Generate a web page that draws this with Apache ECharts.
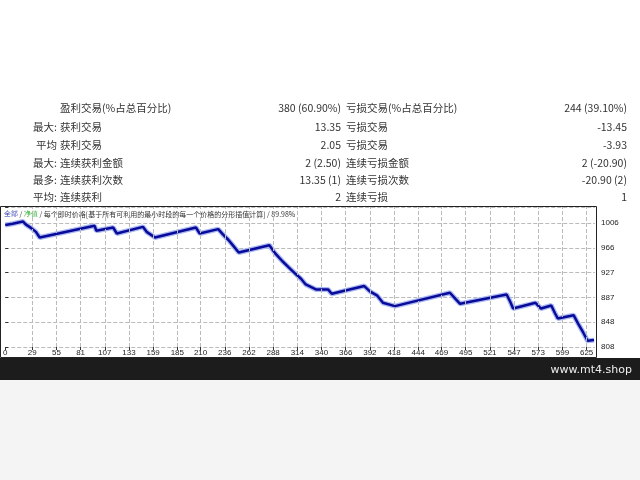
<!DOCTYPE html>
<html><head><meta charset="utf-8">
<script src="https://cdn.jsdelivr.net/npm/echarts@6/dist/echarts.min.js"></script>
<style>html,body{margin:0;padding:0;background:#fff}#c{width:640px;height:480px}</style>
</head><body><div id="c"></div>
<script>
// 表格数据
const rowLabels = ['', '最大:', '平均', '最大:', '最多:', '平均:'];
const winNames = ['盈利交易(%占总百分比)', '获利交易', '获利交易', '连续获利金额', '连续获利次数', '连续获利'];
const winValues = ['380 (60.90%)', '13.35', '2.05', '2 (2.50)', '13.35 (1)', '2'];
const lossNames = ['亏损交易(%占总百分比)', '亏损交易', '亏损交易', '连续亏损金额', '连续亏损次数', '连续亏损'];
const lossValues = ['244 (39.10%)', '-13.45', '-3.93', '2 (-20.90)', '-20.90 (2)', '1'];
// 净值曲线 [交易序号, 净值]
const equity = [[0,1003],[8,1005],[19,1008.7],[22,1004],[28,998],[33,992],[37,983],[96,1001.7],[98,993.7],[116,999],[120,989.4],[148,1000],[152,992],[161,983],[205,999],[209,989.4],[229,996.4],[234,988],[240,979],[245,970],[251,959],[284,970.7],[290,958],[298,945],[305,935],[312,925],[318,917],[323,908],[334,900],[347,900],[351,893],[386,905.4],[392,897],[400,890],[406,878.6],[419,873.3],[478,894.7],[484,885],[489,877],[539,892],[543,880],[546,869.5],[570,878.6],[576,869.5],[587,874.4],[591,862],[594,853.5],[611,858.8],[616,845],[621,832],[626,818],[633,819]];
const xTicks = [0,29,55,81,107,133,159,185,210,236,262,288,314,340,366,392,418,444,469,495,521,547,573,599,625];

const rowY = [108,127,145,163,180,197];
const graphic = [];
rowY.forEach((y, i) => {
  const st = {fontSize: 10.5, fill: '#333', fontFamily: 'Noto Sans CJK SC', textVerticalAlign: 'middle'};
  graphic.push({type:'text', x:57, y, style:Object.assign({text:rowLabels[i], textAlign:'right'}, st)});
  graphic.push({type:'text', x:60, y, style:Object.assign({text:winNames[i], textAlign:'left'}, st)});
  graphic.push({type:'text', x:341, y, style:Object.assign({text:winValues[i], textAlign:'right'}, st)});
  graphic.push({type:'text', x:346, y, style:Object.assign({text:lossNames[i], textAlign:'left'}, st)});
  graphic.push({type:'text', x:627, y, style:Object.assign({text:lossValues[i], textAlign:'right'}, st)});
});
graphic.push({type:'rect', shape:{x:0.5, y:206.5, width:596, height:151}, style:{fill:'none', stroke:'#222', lineWidth:1}});
graphic.push({type:'text', x:4, y:214, style:{text:'{b|全部} / {g|净值} / 每个即时价格[基于所有可利用的最小时段的每一个价格的分形插值计算] / 89.98%', fontSize:7, fill:'#333', textVerticalAlign:'middle', fontFamily:'Noto Sans CJK SC', rich:{b:{fill:'#2233aa', fontSize:7}, g:{fill:'#22aa22', fontSize:7}}}});
graphic.push({type:'rect', shape:{x:0, y:358, width:640, height:22}, style:{fill:'#1c1c1c'}});
graphic.push({type:'rect', shape:{x:0, y:380, width:640, height:100}, style:{fill:'#f4f4f4'}});
graphic.push({type:'text', x:632, y:370, style:{text:'www.mt4.shop', fontSize:11, fill:'#eee', textAlign:'right', textVerticalAlign:'middle', fontFamily:'DejaVu Sans'}});

const chart = echarts.init(document.getElementById('c'));
chart.setOption({
  animation: false,
  grid: {left: 2, right: 45, top: 207, bottom: 133},
  xAxis: {
    type: 'value', min: 0, max: 634,
    axisLine: {show: false},
    axisTick: {show: true, length: 3, lineStyle: {color: '#333'}, customValues: xTicks},
    splitLine: {show: false},
    axisLabel: {show: true, customValues: xTicks, fontSize: 8, color: '#222', margin: 2, hideOverlap: false}
  },
  yAxis: {
    type: 'value', position: 'right', min: 808, max: 808 + 39.6 * 5.65, interval: 39.6,
    axisLine: {show: false}, axisTick: {show: true, length: 3, lineStyle: {color: '#333'}},
    axisLabel: {fontSize: 8, color: '#222', margin: 6, formatter: v => v > 1020 ? '' : Math.round(v)},
    splitLine: {lineStyle: {color: '#bbb', type: 'dashed'}}
  },
  graphic,
  series: [
    {type: 'line', data: equity, symbol: 'none', lineStyle: {color: '#a8b8f0', width: 5}, silent: true, z: 1},
    {type: 'line', data: equity, symbol: 'none', lineStyle: {color: '#0a0a9a', width: 2.5}, z: 2,
     markLine: {symbol: 'none', silent: true, label: {show: false}, lineStyle: {color: '#bbb', type: 'dashed', width: 1},
       data: xTicks.slice(1).map(t => ({xAxis: t}))}}
  ]
});
</script></body></html>
